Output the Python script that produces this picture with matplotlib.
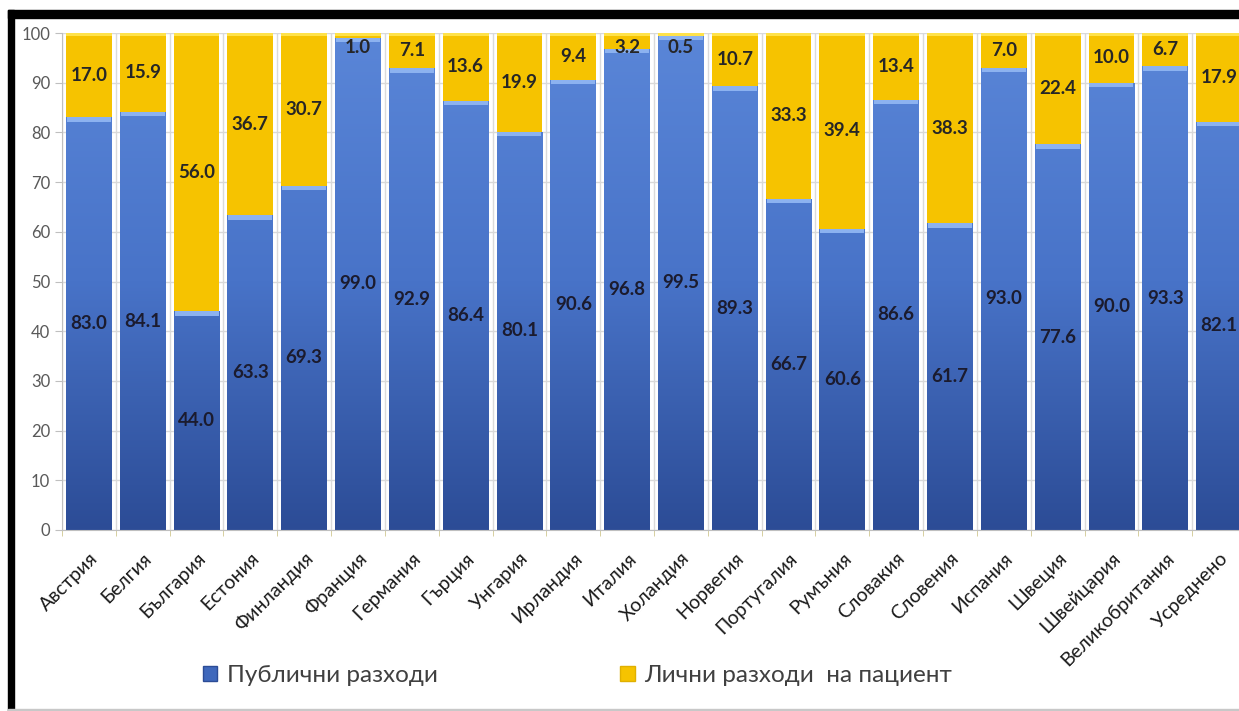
import numpy as np
import matplotlib
matplotlib.use("Agg")
import matplotlib.pyplot as plt
from matplotlib.colors import LinearSegmentedColormap
from matplotlib.patches import Rectangle, Patch

plt.rcParams["font.family"] = ["Lato", "Open Sans", "DejaVu Sans"]

countries = ["Австрия", "Белгия", "България", "Естония", "Финландия", "Франция",
             "Германия", "Гърция", "Унгария", "Ирландия", "Италия", "Холандия",
             "Норвегия", "Португалия", "Румъния", "Словакия", "Словения", "Испания",
             "Швеция", "Швейцария", "Великобритания", "Усреднено"]
public = [83.0, 84.1, 44.0, 63.3, 69.3, 99.0, 92.9, 86.4, 80.1, 90.6, 96.8,
          99.5, 89.3, 66.7, 60.6, 86.6, 61.7, 93.0, 77.6, 90.0, 93.3, 82.1]
private = [17.0, 15.9, 56.0, 36.7, 30.7, 1.0, 7.1, 13.6, 19.9, 9.4, 3.2,
           0.5, 10.7, 33.3, 39.4, 13.4, 38.3, 7.0, 22.4, 10.0, 6.7, 17.9]
legend_labels = ["Публични разходи", "Лични разходи  на пациент"]
yticks = list(range(0, 101, 10))

blue = "#4570C4"
yellow = "#F6C300"

fig = plt.figure(figsize=(12.39, 7.11), dpi=100)
ax = fig.add_axes([62 / 1239, 1 - 530 / 711, (1246 - 62) / 1239, (530 - 33) / 711])

x = np.arange(len(countries))
pub = np.array(public)
priv = np.array(private)
width = 0.85

bars_pub = ax.bar(x, pub, width, color=blue, zorder=2)
bars_priv = ax.bar(x, priv, width, bottom=pub, color=yellow, zorder=2)

# vertical gradient on the blue part
cmap = LinearSegmentedColormap.from_list("bl", ["#2C4C96", "#4873C8", "#5A86D8"])
grad = np.linspace(0, 1, 256).reshape(-1, 1)
for b in bars_pub:
    im = ax.imshow(grad, cmap=cmap, origin="lower", aspect="auto", zorder=2.1,
                   extent=(b.get_x(), b.get_x() + b.get_width(), 0, 100))
    im.set_clip_path(b)

# light highlight on top of each segment
ax.bar(x, 0.9, width * 0.96, bottom=pub - 0.9, color="#8CB2F0", zorder=2.2)
ax.bar(x, 0.7, width, bottom=pub + priv - 0.7, color="#FFE24A", zorder=2.2)

for xi, p, q in zip(x, pub, priv):
    ax.text(xi, p / 2, f"{p:.1f}", ha="center", va="center", fontsize=13.5,
            fontweight="bold", color="#1B1B2E", zorder=3)
    ax.text(xi, min(p + q / 2, 97), f"{q:.1f}", ha="center", va="center",
            fontsize=13.5, fontweight="bold", color="#262626", zorder=3)

ax.set_xlim(-0.5, len(countries) - 0.5)
ax.set_ylim(0, 100)
ax.set_yticks(yticks)
ax.tick_params(axis="y", labelsize=12, labelcolor="#595959", color="#BFBFBF",
               length=5, direction="out")
ax.set_xticks(x)
ax.set_xticklabels(countries, rotation=45, ha="right", rotation_mode="anchor",
                   fontsize=14, color="#1A1A1A")
ax.set_xticks(np.arange(-0.5, len(countries), 1), minor=True)
ax.tick_params(axis="x", which="major", length=0, pad=14)
ax.tick_params(axis="x", which="minor", length=4, color="#D0C890")
ax.grid(axis="y", color="#D9D9D9", linewidth=1, zorder=0)
ax.grid(axis="x", which="minor", color="#DADADA", linewidth=1, zorder=0)
ax.set_axisbelow(True)
for s in ["top", "right"]:
    ax.spines[s].set_visible(False)
ax.spines["left"].set_color("#BFBFBF")
ax.spines["bottom"].set_color("#BFBFBF")

handles = [Patch(facecolor="#3F68BC", edgecolor="#2C4C96"),
           Patch(facecolor=yellow, edgecolor="#E0B000")]
fig.legend(handles, legend_labels, loc="center", bbox_to_anchor=(0.466, 0.05),
           ncol=2, frameon=False, fontsize=17.5, labelcolor="#404040",
           handlelength=0.6, handleheight=0.6, handletextpad=0.4, columnspacing=7.5)

# black frame on top and left, thin grey line at bottom
fig.add_artist(Rectangle((8 / 1239, 1 - 18 / 711), 1, 8 / 711, transform=fig.transFigure,
                         color="black", zorder=5))
fig.add_artist(Rectangle((8 / 1239, 0), 6 / 1239, 1 - 10 / 711, transform=fig.transFigure,
                         color="black", zorder=5))
fig.add_artist(Rectangle((8 / 1239, 0.0), 1, 2 / 711, transform=fig.transFigure,
                         color="#C8C8C8", zorder=5))

fig.savefig("out.png", dpi=100)
